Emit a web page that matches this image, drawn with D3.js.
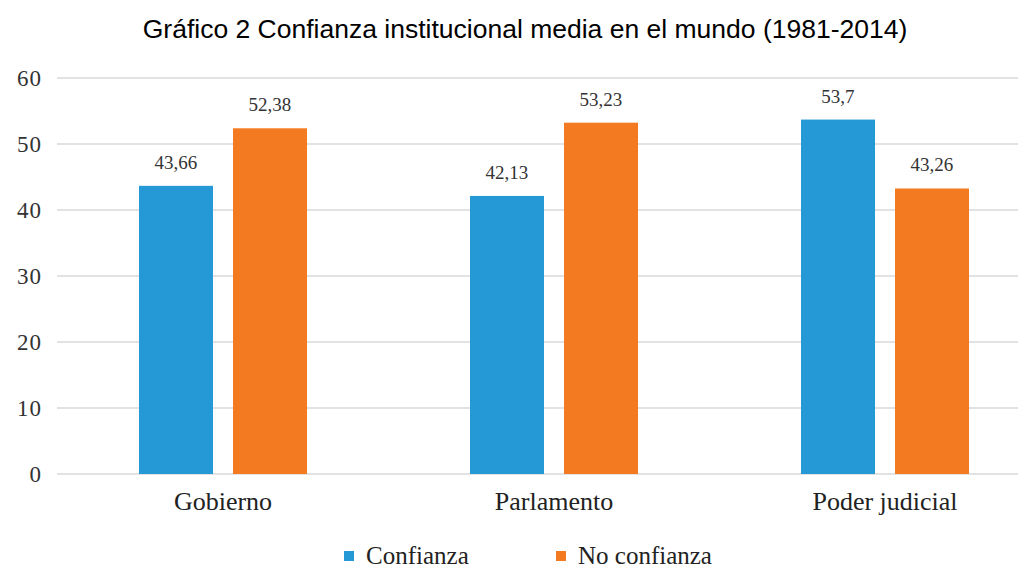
<!DOCTYPE html>
<html>
<head>
<meta charset="utf-8">
<script src="https://cdn.jsdelivr.net/npm/d3@7"></script>
<style>
  html, body { margin: 0; padding: 0; background: #fff; }
  svg { display: block; }
</style>
</head>
<body>
<div id="chart"></div>
<script>
const categories = ["Gobierno", "Parlamento", "Poder judicial"];
const seriesNames = ["Confianza", "No confianza"];
const confianza = [43.66, 42.13, 53.7];
const noConfianza = [52.38, 53.23, 43.26];
const valueLabels = [["43,66", "42,13", "53,7"], ["52,38", "53,23", "43,26"]];
const yTicks = [0, 10, 20, 30, 40, 50, 60];
const colors = ["#2598d6", "#f47a22"];
const title = "Gráfico 2 Confianza institucional media en el mundo (1981-2014)";

const W = 1018, H = 571;
const serif = "Liberation Serif, DejaVu Serif, serif";
const svg = d3.select("#chart").append("svg").attr("width", W).attr("height", H);

const y = d3.scaleLinear().domain([0, 60]).range([474, 78]);
const x0 = d3.scaleBand().domain(categories).range([57.5, 1050.5])
  .paddingInner(0.4924).paddingOuter(0.2462);
const x1 = d3.scaleBand().domain(seriesNames).range([0, x0.bandwidth()])
  .paddingInner(20 / 94);

// title
svg.append("text").attr("x", 525).attr("y", 38).attr("text-anchor", "middle")
  .attr("font-family", "Liberation Sans, Arial, sans-serif").attr("font-size", 26.5)
  .attr("fill", "#000").text(title);

// gridlines
svg.append("g").selectAll("line").data(yTicks).join("line")
  .attr("x1", 57).attr("x2", W).attr("y1", d => y(d)).attr("y2", d => y(d))
  .attr("stroke", "#d9d9d9").attr("stroke-width", 1.5);

// y axis labels
const yAxis = d3.axisLeft(y).tickValues(yTicks).tickSize(0).tickPadding(0);
const gy = svg.append("g").attr("transform", "translate(42,0)").call(yAxis);
gy.select(".domain").remove();
gy.selectAll("text").attr("font-family", serif)
  .attr("font-size", 23).attr("fill", "#333").attr("letter-spacing", 1);

// bars
const seriesData = [confianza, noConfianza];
const groups = svg.append("g").selectAll("g").data(categories).join("g")
  .attr("transform", d => `translate(${x0(d)},0)`);
groups.selectAll("rect").data((c, i) => seriesNames.map((s, j) => ({ s, j, v: seriesData[j][i] })))
  .join("rect")
  .attr("x", d => x1(d.s)).attr("width", x1.bandwidth())
  .attr("y", d => y(d.v)).attr("height", d => y(0) - y(d.v))
  .attr("fill", d => colors[d.j]);
groups.selectAll("text.val").data((c, i) => seriesNames.map((s, j) => ({ s, j, v: seriesData[j][i], t: valueLabels[j][i] })))
  .join("text").attr("class", "val")
  .attr("x", d => x1(d.s) + x1.bandwidth() / 2).attr("y", d => y(d.v) - 17)
  .attr("text-anchor", "middle")
  .attr("font-family", serif).attr("font-size", 19)
  .attr("fill", "#333").text(d => d.t);

// x axis labels
const xAxis = d3.axisBottom(x0).tickSize(0).tickPadding(0);
const gx = svg.append("g").attr("transform", "translate(0,492)").call(xAxis);
gx.select(".domain").remove();
gx.selectAll("text").attr("font-family", serif)
  .attr("font-size", 26).attr("fill", "#222");

// legend
const legendX = [344, 556];
const leg = svg.append("g").selectAll("g").data(seriesNames).join("g")
  .attr("transform", (d, i) => `translate(${legendX[i]},0)`);
leg.append("rect").attr("x", 0).attr("y", 551).attr("width", 10).attr("height", 10)
  .attr("fill", (d, i) => colors[i]);
leg.append("text").attr("x", 22).attr("y", 564)
  .attr("font-family", serif).attr("font-size", 25)
  .attr("fill", "#222").text(d => d);
</script>
</body>
</html>
